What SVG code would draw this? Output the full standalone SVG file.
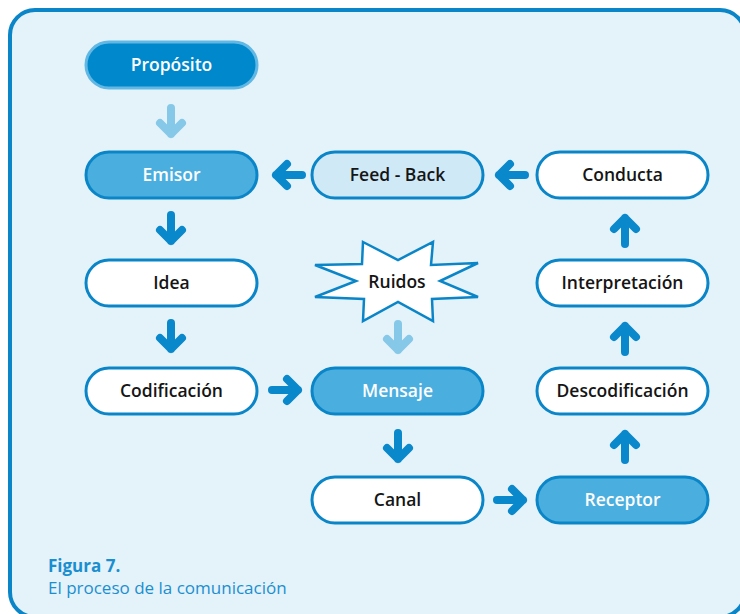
<svg xmlns="http://www.w3.org/2000/svg" xmlns:xlink="http://www.w3.org/1999/xlink" width="740" height="614" viewBox="0 0 740 614">
<style>
.pill{stroke:#0a86c8;stroke-width:3}
.w{fill:#ffffff}
.m{fill:#4aaedf}
.l{fill:#cfe9f7}
.t{font-family:"Open Sans",Lato,"Liberation Sans",sans-serif;font-weight:600;font-size:17.5px;text-anchor:middle;fill:#151515}
.tw{fill:#ffffff}
.a{fill:none;stroke:#0a88cc;stroke-width:8;stroke-linecap:round;stroke-linejoin:round}
.al{stroke:#86c8e8}
.cap{font-family:"Open Sans",Lato,"Liberation Sans",sans-serif;font-size:17px;fill:#1a8fd0}
</style>
<defs>
<g id="arr"><path d="M -14 0 L 12 0 M 1 -11 L 12 0 L 1 11"/></g>
</defs>
<rect x="10" y="10" width="735" height="607" rx="25" fill="#e4f2fa" stroke="#0a86c8" stroke-width="4"/>

<g id="connectors">
<use xlink:href="#arr" class="a al" transform="translate(171,122) rotate(90)"/>
<use xlink:href="#arr" class="a" transform="translate(171,229) rotate(90)"/>
<use xlink:href="#arr" class="a" transform="translate(171,337) rotate(90)"/>
<use xlink:href="#arr" class="a al" transform="translate(398,338) rotate(90)"/>
<use xlink:href="#arr" class="a" transform="translate(398,447) rotate(90)"/>
<use xlink:href="#arr" class="a" transform="translate(625,446) rotate(-90)"/>
<use xlink:href="#arr" class="a" transform="translate(625,338) rotate(-90)"/>
<use xlink:href="#arr" class="a" transform="translate(625,230) rotate(-90)"/>
<use xlink:href="#arr" class="a" transform="translate(286,390)"/>
<use xlink:href="#arr" class="a" transform="translate(511,500)"/>
<use xlink:href="#arr" class="a" transform="translate(511,175) rotate(180)"/>
<use xlink:href="#arr" class="a" transform="translate(288,175) rotate(180)"/>
</g>

<g id="proposito"><rect x="86" y="42" width="171" height="46" rx="23" fill="#0088cc" stroke="#62b8e4" stroke-width="3"/><text class="t tw" x="171.5" y="71">Propósito</text></g>
<g id="emisor"><rect class="pill m" x="86" y="152" width="171" height="46" rx="23"/><text class="t tw" x="171.5" y="181">Emisor</text></g>
<g id="feedback"><rect class="pill l" x="312" y="152" width="171" height="46" rx="23"/><text class="t" x="397.5" y="181">Feed - Back</text></g>
<g id="conducta"><rect class="pill w" x="537" y="152" width="171" height="46" rx="23"/><text class="t" x="622.5" y="181">Conducta</text></g>
<g id="idea"><rect class="pill w" x="86" y="260" width="171" height="46" rx="23"/><text class="t" x="171.5" y="289">Idea</text></g>
<g id="ruidos"><polygon points="363,242 398,260 433,242 431,265 478,263 440,281 478,297 432,299 433,321 398,302 363,321 364,299 315,297 356,281 315,265 362,264" fill="#ffffff" stroke="#0a86c8" stroke-width="2.5" stroke-linejoin="miter"/><text class="t" x="397" y="288">Ruidos</text></g>
<g id="interpretacion"><rect class="pill w" x="537" y="260" width="171" height="46" rx="23"/><text class="t" x="622.5" y="289">Interpretación</text></g>
<g id="codificacion"><rect class="pill w" x="86" y="368" width="171" height="46" rx="23"/><text class="t" x="171.5" y="397">Codificación</text></g>
<g id="mensaje"><rect class="pill m" x="312" y="368" width="171" height="46" rx="23"/><text class="t tw" x="397.5" y="397">Mensaje</text></g>
<g id="descodificacion"><rect class="pill w" x="537" y="368" width="171" height="46" rx="23"/><text class="t" x="622.5" y="397">Descodificación</text></g>
<g id="canal"><rect class="pill w" x="312" y="477" width="171" height="46" rx="23"/><text class="t" x="397.5" y="506">Canal</text></g>
<g id="receptor"><rect class="pill m" x="537" y="477" width="171" height="46" rx="23"/><text class="t tw" x="622.5" y="506">Receptor</text></g>

<text class="cap" x="48" y="572" font-weight="700">Figura 7.</text>
<text class="cap" x="48" y="594">El proceso de la comunicación</text>
</svg>
